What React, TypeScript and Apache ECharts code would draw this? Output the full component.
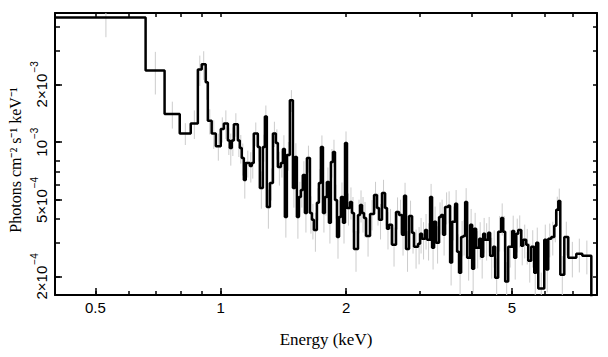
import React, { useEffect, useRef } from "react";
import * as echarts from "echarts";

// Bin lower edges (keV)
const edgesKeV = [
  0.400, 0.660, 0.733, 0.797, 0.847, 0.881, 0.900, 0.920, 0.931, 0.951,
  0.973, 1.000, 1.017, 1.040, 1.051, 1.063, 1.075, 1.099, 1.111, 1.123,
  1.136, 1.148, 1.174, 1.187, 1.200, 1.227, 1.241, 1.262, 1.276, 1.290,
  1.312, 1.334, 1.356, 1.371, 1.394, 1.410, 1.425, 1.441, 1.465, 1.490,
  1.506, 1.523, 1.540, 1.557, 1.574, 1.592, 1.610, 1.637, 1.655, 1.673,
  1.701, 1.720, 1.739, 1.759, 1.778, 1.798, 1.818, 1.838, 1.859, 1.880,
  1.901, 1.922, 1.943, 1.965, 1.987, 2.009, 2.042, 2.065, 2.088, 2.135,
  2.159, 2.183, 2.207, 2.232, 2.282, 2.333, 2.371, 2.398, 2.438, 2.479,
  2.506, 2.534, 2.577, 2.634, 2.679, 2.723, 2.754, 2.784, 2.831, 2.878,
  2.910, 2.976, 3.009, 3.042, 3.093, 3.127, 3.180, 3.215, 3.251, 3.287,
  3.342, 3.379, 3.417, 3.455, 3.513, 3.552, 3.592, 3.652, 3.692, 3.733,
  3.775, 3.817, 3.860, 3.903, 3.968, 4.012, 4.057, 4.102, 4.171, 4.217,
  4.264, 4.311, 4.384, 4.432, 4.507, 4.557, 4.633, 4.711, 4.763, 4.816,
  4.897, 5.007, 5.062, 5.119, 5.176, 5.263, 5.321, 5.410, 5.470, 5.562,
  5.655, 5.718, 5.782, 5.977, 6.044, 6.111, 6.213, 6.317, 6.387, 6.459,
  6.531, 6.677, 6.826, 7.135, 7.376,
];
const lastEdgeKeV = 7.753;

// Flux per bin, in units of 1e-4 photons cm^-2 s^-1 keV^-1
const fluxE4 = [
  44.5, 23.6, 14.0, 11.1, 12.5, 23.9, 25.4, 20.5, 12.9, 11.1,
  9.53, 11.7, 12.5, 10.2, 9.31, 10.2, 12.4, 10.2, 9.31, 8.26,
  6.35, 7.78, 7.51, 7.78, 11.1, 9.42, 5.77, 9.42, 13.6, 4.60,
  6.13, 11.1, 9.88, 7.42, 7.78, 9.20, 4.08, 8.56, 16.5, 5.77,
  8.36, 4.08, 5.18, 5.63, 6.74, 4.28, 8.26, 4.28, 3.94, 3.49,
  4.83, 6.13, 9.42, 4.28, 5.18, 6.20, 3.80, 7.87, 8.87, 5.00,
  3.21, 4.08, 5.18, 3.80, 9.88, 4.54, 4.88, 4.28, 2.78, 4.18,
  4.71, 4.28, 4.03, 3.25, 4.23, 5.31, 4.54, 3.94, 5.44, 4.54,
  3.54, 3.71, 2.92, 4.33, 4.18, 3.29, 5.25, 2.78, 4.13, 3.37,
  2.85, 2.96, 3.33, 3.14, 3.49, 3.10, 5.18, 2.82, 3.85, 2.99,
  4.08, 4.18, 3.29, 4.60, 4.66, 2.36, 3.85, 4.77, 2.69, 2.09,
  3.21, 3.25, 4.88, 2.50, 3.71, 2.19, 3.54, 2.82, 3.14, 2.53,
  3.33, 3.10, 3.37, 2.56, 2.85, 1.97, 3.41, 4.03, 3.41, 1.88,
  2.85, 3.45, 2.50, 3.33, 3.49, 2.89, 3.10, 2.92, 2.41, 2.85,
  2.09, 2.99, 1.73, 3.10, 2.17, 3.14, 3.21, 3.67, 4.44, 4.94,
  2.04, 3.21, 2.50, 2.62, 2.56,
];

// 1-sigma error per bin, percent of the bin value
const errPct = [
  21, 25, 16, 13, 17, 18, 17, 19, 15, 17,
  16, 15, 17, 16, 19, 17, 14, 18, 17, 19,
  20, 16, 18, 17, 14, 16, 22, 16, 14, 23,
  19, 15, 18, 20, 16, 18, 22, 17, 13, 21,
  18, 23, 20, 19, 18, 21, 16, 22, 21, 23,
  19, 18, 15, 21, 20, 19, 22, 17, 16, 20,
  23, 21, 19, 22, 15, 19, 19, 21, 24, 20,
  19, 21, 21, 22, 18, 17, 19, 21, 17, 19,
  22, 21, 23, 19, 20, 22, 17, 24, 20, 22,
  23, 22, 21, 22, 21, 22, 17, 23, 20, 22,
  19, 20, 22, 19, 19, 24, 20, 18, 23, 25,
  21, 21, 18, 24, 21, 25, 21, 22, 22, 23,
  21, 22, 21, 24, 22, 26, 21, 19, 21, 26,
  22, 20, 23, 20, 19, 21, 20, 21, 23, 22,
  25, 20, 21, 20, 24, 20, 20, 18, 17, 16,
  25, 20, 21, 20, 20,
];

const xTickValues = [0.5, 0.6, 0.7, 0.8, 0.9, 1, 2, 3, 4, 5, 6, 7];
const xLabelValues = [0.5, 1, 2, 5];
const xLabelTexts = ["0.5", "1", "2", "5"];
const yTickValues = [2e-4, 3e-4, 4e-4, 5e-4, 6e-4, 7e-4, 8e-4, 1e-3, 2e-3, 3e-3, 4e-3];
const yLabelValues = [2e-4, 5e-4, 1e-3, 2e-3];
const yLabelMantissa = ["2×10", "5×10", "10", "2×10"];
const yLabelExponent = ["−4", "−4", "−3", "−3"];

const X_MIN = 0.4;
const X_MAX = 8;
const Y_MIN = 1.6e-4;
const Y_MAX = 4.7e-3;

const SANS = '"Liberation Sans", Arial, Helvetica, sans-serif';
const SERIF = '"Liberation Serif", "Times New Roman", serif';

function findIndex(vals: number[], v: number): number {
  for (let i = 0; i < vals.length; i++) {
    if (Math.abs(vals[i] - v) / vals[i] < 1e-6) return i;
  }
  return -1;
}

export default function App() {
  const ref = useRef<HTMLDivElement>(null);

  useEffect(() => {
    if (!ref.current) return;
    const chart = echarts.init(ref.current, undefined, { renderer: "svg" });

    const stepData: number[][] = edgesKeV.map((e, i) => [e, fluxE4[i] * 1e-4]);
    stepData.push([lastEdgeKeV, fluxE4[fluxE4.length - 1] * 1e-4]);
    stepData.push([lastEdgeKeV, 1e-6]);

    const errData: number[][] = edgesKeV.map((e, i) => {
      const hiEdge = i + 1 < edgesKeV.length ? edgesKeV[i + 1] : lastEdgeKeV;
      const c = (e + hiEdge) / 2;
      const v = fluxE4[i] * 1e-4;
      const d = (v * errPct[i]) / 100;
      return [c, v - d, v + d];
    });

    const axisLine = { show: true, lineStyle: { color: "#000", width: 2 } };
    const tickStyle = { color: "#000", width: 1.5 };

    chart.setOption({
      animation: false,
      backgroundColor: "#fff",
      grid: { left: 55, right: 11, top: 13, bottom: 62, containLabel: false },
      xAxis: [
        {
          type: "log",
          logBase: 10,
          min: X_MIN,
          max: X_MAX,
          position: "bottom",
          axisLine,
          axisTick: { show: true, inside: true, length: 4, customValues: xTickValues, lineStyle: tickStyle },
          minorTick: { show: false },
          splitLine: { show: false },
          axisLabel: {
            customValues: xLabelValues,
            formatter: (v: number) => {
              const i = findIndex(xLabelValues, v);
              return i >= 0 ? xLabelTexts[i] : "";
            },
            fontFamily: SANS,
            fontSize: 15,
            color: "#000",
            margin: 5,
          },
          name: "Energy (keV)",
          nameLocation: "middle",
          nameGap: 36,
          nameTextStyle: { fontFamily: SERIF, fontSize: 17, color: "#000" },
        },
        {
          type: "log",
          logBase: 10,
          min: X_MIN,
          max: X_MAX,
          position: "bottom",
          axisLine: { show: false },
          axisTick: { show: true, inside: true, length: 7, customValues: xLabelValues, lineStyle: tickStyle },
          axisLabel: { show: false },
          splitLine: { show: false },
        },
        {
          type: "log",
          logBase: 10,
          min: X_MIN,
          max: X_MAX,
          position: "top",
          axisLine,
          axisTick: { show: true, inside: true, length: 4, customValues: xTickValues, lineStyle: tickStyle },
          axisLabel: { show: false },
          splitLine: { show: false },
        },
      ],
      yAxis: [
        {
          type: "log",
          logBase: 10,
          min: Y_MIN,
          max: Y_MAX,
          position: "left",
          axisLine,
          axisTick: { show: true, inside: true, length: 5, customValues: yTickValues, lineStyle: tickStyle },
          minorTick: { show: false },
          splitLine: { show: false },
          axisLabel: {
            customValues: yLabelValues,
            formatter: (v: number) => {
              const i = findIndex(yLabelValues, v);
              return i >= 0 ? `{b|${yLabelMantissa[i]}}{s|${yLabelExponent[i]}}` : "";
            },
            rotate: 90,
            color: "#000",
            margin: 6,
            rich: {
              b: { fontFamily: SANS, fontSize: 15, color: "#000", lineHeight: 20, verticalAlign: "bottom" },
              s: { fontFamily: SANS, fontSize: 10, color: "#000", lineHeight: 20, verticalAlign: "top", padding: [0, 0, 0, 1] },
            },
          },
        },
        {
          type: "log",
          logBase: 10,
          min: Y_MIN,
          max: Y_MAX,
          position: "left",
          axisLine: { show: false },
          axisTick: { show: true, inside: true, length: 7, customValues: yLabelValues, lineStyle: tickStyle },
          axisLabel: { show: false },
          splitLine: { show: false },
        },
        {
          type: "log",
          logBase: 10,
          min: Y_MIN,
          max: Y_MAX,
          position: "right",
          axisLine,
          axisTick: { show: true, inside: true, length: 4, customValues: yTickValues, lineStyle: tickStyle },
          axisLabel: { show: false },
          splitLine: { show: false },
        },
      ],
      graphic: [
        {
          type: "text",
          x: 15,
          y: 160,
          rotation: Math.PI / 2,
          style: {
            text: "Photons cm⁻² s⁻¹ keV⁻¹",
            font: `16px ${SERIF}`,
            fill: "#000",
            align: "center",
            verticalAlign: "middle",
          },
        },
      ],
      series: [
        {
          type: "custom",
          xAxisIndex: 0,
          yAxisIndex: 0,
          clip: true,
          encode: { x: 0, y: [1, 2] },
          data: errData,
          z: 1,
          renderItem: (params: any, api: any) => {
            const x = api.value(0);
            const p1 = api.coord([x, api.value(1)]);
            const p2 = api.coord([x, api.value(2)]);
            return {
              type: "line",
              shape: { x1: p1[0], y1: p1[1], x2: p2[0], y2: p2[1] },
              style: { stroke: "#cccccc", lineWidth: 1 },
            };
          },
        },
        {
          type: "line",
          xAxisIndex: 0,
          yAxisIndex: 0,
          step: "end",
          symbol: "none",
          clip: true,
          data: stepData,
          z: 2,
          lineStyle: { color: "#000", width: 2.5 },
        },
      ],
    });

    return () => chart.dispose();
  }, []);

  return (
    <div
      ref={ref}
      style={{ position: "absolute", left: 0, top: 0, width: 608, height: 357 }}
    />
  );
}
